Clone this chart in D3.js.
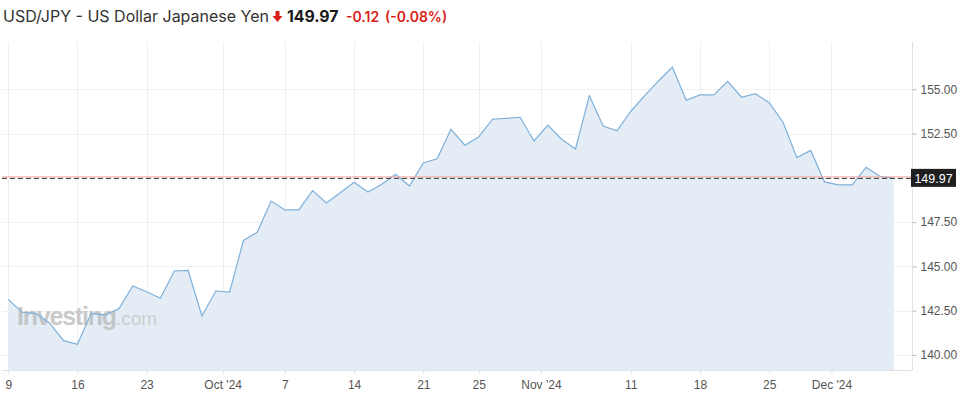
<!DOCTYPE html>
<html>
<head>
<meta charset="utf-8">
<script src="https://cdn.jsdelivr.net/npm/d3@7"></script>
<style>
  html, body { margin: 0; padding: 0; background: #fff; }
  svg { display: block; }
</style>
</head>
<body>
<div id="chart"></div>
<script>
// trading days, Sep 9 2024 .. Dec 6 2024
const dates = [
  'Sep 9', 'Sep 10', 'Sep 11', 'Sep 12', 'Sep 13',
  'Sep 16', 'Sep 17', 'Sep 18', 'Sep 19', 'Sep 20',
  'Sep 23', 'Sep 24', 'Sep 25', 'Sep 26', 'Sep 27',
  'Sep 30', 'Oct 1', 'Oct 2', 'Oct 3', 'Oct 4',
  'Oct 7', 'Oct 8', 'Oct 9', 'Oct 10', 'Oct 11',
  'Oct 14', 'Oct 15', 'Oct 16', 'Oct 17', 'Oct 18',
  'Oct 21', 'Oct 22', 'Oct 23', 'Oct 24', 'Oct 25',
  'Oct 28', 'Oct 29', 'Oct 30', 'Oct 31', 'Nov 1',
  'Nov 4', 'Nov 5', 'Nov 6', 'Nov 7', 'Nov 8',
  'Nov 11', 'Nov 12', 'Nov 13', 'Nov 14', 'Nov 15',
  'Nov 18', 'Nov 19', 'Nov 20', 'Nov 21', 'Nov 22',
  'Nov 25', 'Nov 26', 'Nov 27', 'Nov 28', 'Nov 29',
  'Dec 2', 'Dec 3', 'Dec 4', 'Dec 5', 'Dec 6'
]

const closes = [
  143.14, 142.41, 142.35, 141.79, 140.81,
  140.60, 142.35, 142.26, 142.61, 143.89,
  143.57, 143.20, 144.74, 144.78, 142.20,
  143.61, 143.55, 146.47, 146.93, 148.69,
  148.19, 148.19, 149.28, 148.58, 149.16,
  149.75, 149.20, 149.64, 150.20, 149.54,
  150.84, 151.08, 152.74, 151.84, 152.31,
  153.31, 153.36, 153.42, 152.08, 152.98,
  152.18, 151.63, 154.64, 152.93, 152.66,
  153.76, 154.64, 155.47, 156.26, 154.38,
  154.68, 154.68, 155.45, 154.55, 154.75,
  154.24, 153.14, 151.14, 151.55, 149.77,
  149.60, 149.60, 150.60, 150.09, 149.97
]

// x tick positions are in trading-day index (month ticks fall between days)
const xTickPos = [0, 5, 10, 15.5, 20, 25, 30, 34, 38.5, 45, 50, 55, 59.5]
const xTickLabels = ['9', '16', '23', "Oct '24", '7', '14', '21', '25', "Nov '24", '11', '18', '25', "Dec '24"]

const yTicks = [140, 142.5, 145, 147.5, 150, 152.5, 155]

const lastPrice = 149.97
const change = '-0.12'
const changePct = '(-0.08%)'
const title = 'USD/JPY - US Dollar Japanese Yen'

const W = 965
const H = 401
const plot = { left: 2, right: 911.7, top: 42, bottom: 370 }
const colors = {
  line: '#7eb0da',
  area: '#e4edf5',
  grid: '#f0f0f0',
  axis: '#e2e2e2',
  label: '#555',
  red: '#d91e18',
  priceLine: '#f4a3a3'
}
const axisFont = '"Liberation Sans", Arial, sans-serif'

const svg = d3.select('#chart').append('svg')
  .attr('width', W)
  .attr('height', H)

const x = d3.scaleLinear().domain([-0.45, 65.3]).range([plot.left, plot.right])
const y = d3.scaleLinear().domain([139.15, 157.67]).range([plot.bottom, plot.top])

// grid
svg.append('g')
  .selectAll('line')
  .data(yTicks)
  .join('line')
  .attr('x1', plot.left)
  .attr('x2', plot.right)
  .attr('y1', d => Math.round(y(d)) + 0.5)
  .attr('y2', d => Math.round(y(d)) + 0.5)
  .attr('stroke', colors.grid)

svg.append('g')
  .selectAll('line')
  .data(xTickPos)
  .join('line')
  .attr('x1', d => Math.round(x(d)) + 0.5)
  .attr('x2', d => Math.round(x(d)) + 0.5)
  .attr('y1', plot.top)
  .attr('y2', plot.bottom)
  .attr('stroke', colors.grid)

// area + line
const area = d3.area()
  .x((d, i) => x(i))
  .y0(plot.bottom)
  .y1(d => y(d))

const line = d3.line()
  .x((d, i) => x(i))
  .y(d => y(d))

svg.append('path')
  .datum(closes)
  .attr('d', area)
  .attr('fill', colors.area)

// watermark
const wm = svg.append('text')
  .attr('x', 17)
  .attr('y', 325)
  .attr('font-family', '"Liberation Sans", Arial, sans-serif')
  .attr('opacity', 0.75)
wm.append('tspan')
  .attr('font-size', 25)
  .attr('font-weight', 'bold')
  .attr('letter-spacing', -1.2)
  .attr('fill', '#b9b9b9')
  .text('Investing')
wm.append('tspan')
  .attr('font-size', 19)
  .attr('fill', '#c4c4c4')
  .text('.com')

svg.append('path')
  .datum(closes)
  .attr('d', line)
  .attr('fill', 'none')
  .attr('stroke', colors.line)
  .attr('stroke-width', 1.2)

// current price lines
svg.append('line')
  .attr('x1', plot.left)
  .attr('x2', plot.right)
  .attr('y1', y(lastPrice) - 1.5)
  .attr('y2', y(lastPrice) - 1.5)
  .attr('stroke', colors.priceLine)
  .attr('stroke-width', 1)

svg.append('line')
  .attr('x1', plot.left)
  .attr('x2', plot.right)
  .attr('y1', y(lastPrice))
  .attr('y2', y(lastPrice))
  .attr('stroke', '#333')
  .attr('stroke-width', 1)
  .attr('stroke-dasharray', '5,3')

// frame lines
svg.append('line')
  .attr('x1', Math.round(plot.right) + 0.5)
  .attr('x2', Math.round(plot.right) + 0.5)
  .attr('y1', plot.top)
  .attr('y2', plot.bottom)
  .attr('stroke', colors.axis)

svg.append('line')
  .attr('x1', plot.left)
  .attr('x2', plot.right)
  .attr('y1', plot.bottom + 0.5)
  .attr('y2', plot.bottom + 0.5)
  .attr('stroke', colors.axis)

// y axis
const yAxis = d3.axisRight(y)
  .tickValues(yTicks.filter(d => Math.abs(d - lastPrice) > 0.6))
  .tickFormat(d3.format('.2f'))
  .tickSize(4)
  .tickPadding(4)

svg.append('g')
  .attr('transform', `translate(${Math.round(plot.right) + 0.5},0)`)
  .call(yAxis)
  .call(g => g.select('.domain').remove())
  .call(g => g.selectAll('.tick line').attr('stroke', '#bbb'))
  .call(g => g.selectAll('.tick text')
    .attr('fill', colors.label)
    .attr('font-family', axisFont)
    .attr('font-size', 12))

// x axis
const xAxis = d3.axisBottom(x)
  .tickValues(xTickPos)
  .tickFormat((d, i) => xTickLabels[i])
  .tickSize(4)
  .tickPadding(6)

svg.append('g')
  .attr('transform', `translate(0,${plot.bottom + 0.5})`)
  .call(xAxis)
  .call(g => g.select('.domain').remove())
  .call(g => g.selectAll('.tick line').attr('stroke', colors.axis))
  .call(g => g.selectAll('.tick text')
    .attr('fill', colors.label)
    .attr('font-family', axisFont)
    .attr('font-size', 12))

// price label box on the axis
const boxY = y(lastPrice)
svg.append('rect')
  .attr('x', 911)
  .attr('y', boxY - 9.5)
  .attr('width', 45)
  .attr('height', 18)
  .attr('fill', '#1f1f1f')
svg.append('text')
  .attr('x', 933.5)
  .attr('y', boxY)
  .attr('dy', '0.35em')
  .attr('text-anchor', 'middle')
  .attr('fill', '#fff')
  .attr('font-family', axisFont)
  .attr('font-size', 12.5)
  .text(d3.format('.2f')(lastPrice))

// header
const headFont = 'Inter, "Noto Sans", sans-serif'
svg.append('text')
  .attr('x', 3)
  .attr('y', 22)
  .attr('font-family', headFont)
  .attr('font-size', 16)
  .attr('fill', '#333')
  .text(title)

svg.append('path')
  .attr('d', 'M275.5,11 h4 v5 h3 l-5,6 l-5,-6 h3 z')
  .attr('fill', colors.red)

svg.append('text')
  .attr('x', 287)
  .attr('y', 22)
  .attr('font-family', headFont)
  .attr('font-size', 15.8)
  .attr('font-weight', 'bold')
  .attr('fill', '#1a1a1a')
  .text(d3.format('.2f')(lastPrice))

svg.append('text')
  .attr('x', 346)
  .attr('y', 22)
  .attr('font-family', headFont)
  .attr('font-size', 14)
  .attr('font-weight', 600)
  .attr('fill', colors.red)
  .text(change)

svg.append('text')
  .attr('x', 385)
  .attr('y', 22)
  .attr('font-family', headFont)
  .attr('font-size', 14)
  .attr('font-weight', 600)
  .attr('fill', colors.red)
  .text(changePct)
</script>
</body>
</html>
